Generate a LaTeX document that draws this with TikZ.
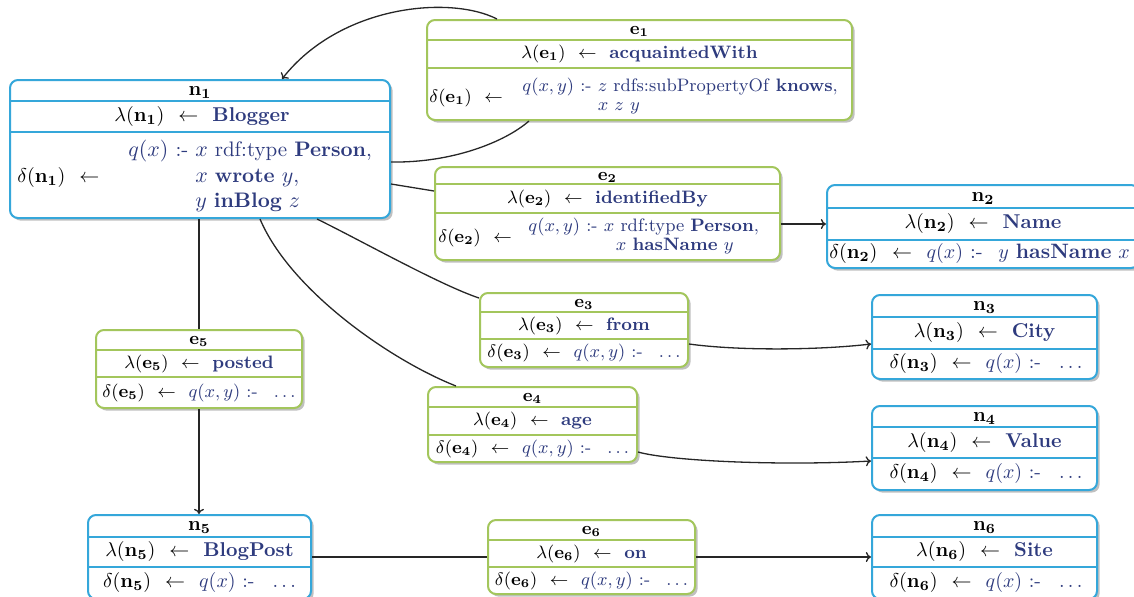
\documentclass[tikz,border=0pt]{standalone}
\usetikzlibrary{fit,shadows,calc,arrows.meta}

\definecolor{nblue}{HTML}{35A7DA}
\definecolor{egreen}{HTML}{A3C65C}
\definecolor{qn}{HTML}{2E3B7E}

% arrow between a label and its value
\newcommand{\lar}{\hspace{0.7em}$\leftarrow$\hspace{0.7em}}
% query / value text colour
\newcommand{\qq}[1]{\textcolor{qn}{#1}}

\tikzset{
  box/.style={fill=white, line width=1pt, rounded corners=4pt, inner sep=0pt,
    drop shadow={shadow xshift=1.3pt, shadow yshift=-1.3pt, fill=black!55, opacity=0.45}},
  nbox/.style={box, draw=nblue},
  ebox/.style={box, draw=egreen},
  nrule/.style={draw=nblue, line width=0.8pt},
  erule/.style={draw=egreen, line width=0.8pt},
  row/.style={inner sep=0pt, text height=7pt, text depth=2.5pt},
  ntext/.style={row, font=\normalsize},
  etext/.style={row, font=\small},
  qblock/.style={inner sep=0pt, anchor=west, text=qn},
  link/.style={draw=black!85, line width=0.65pt},
  arr/.style={link, -{To[length=2.6pt,width=5pt]}},
}

% frame of a three-row box: name, kind (n/e), corners, two row rules
\newcommand{\mkbox}[8]{%
  \node[#2box, fit={(#3,#4) (#5,#6)}] (#1) {};
  \draw[#2rule] (#3,#7) -- (#5,#7) (#3,#8) -- (#5,#8);
}

\begin{document}
\begin{tikzpicture}[x=0.5pt, y=-0.5pt]
\useasboundingbox (0,0) rectangle (1134,596);
\clip (0,0) rectangle (1134,596);

% ---------------- boxes ----------------
\mkbox{n1}{n}{10}{80}{390}{218}{101}{132}
\node[ntext] (n1-h) at (200,90.5) {$\mathbf{n_1}$};
\node[ntext] (n1-l) at (202,116.5) {$\lambda(\mathbf{n_1})$\lar\qq{\textbf{Blogger}}};
\node[ntext, anchor=west] (n1-d) at (17,178) {$\delta(\mathbf{n_1})$\lar};
\node[qblock, font=\fontsize{10.5}{12.6}\selectfont] (n1-q) at (128,177) {\begin{tabular}{@{}r@{\ }l@{}}
  $q(x)$ :- & $x$ rdf:type \textbf{Person},\\
            & $x$ \textbf{wrote} $y$,\\
            & $y$ \textbf{inBlog} $z$
  \end{tabular}};

\mkbox{e1}{e}{427}{20}{852}{120}{40}{68}
\node[etext] (e1-h) at (639.5,30) {$\mathbf{e_1}$};
\node[etext] (e1-l) at (639.5,54) {$\lambda(\mathbf{e_1})$\lar\qq{\textbf{acquaintedWith}}};
\node[etext, anchor=west] (e1-d) at (429,98) {$\delta(\mathbf{e_1})$\lar};
\node[qblock, font=\small] (e1-q) at (522,97) {\def\arraystretch{0.9}\begin{tabular}{@{}r@{\ }l@{}}
  $q(x,y)$ :- & $z$ rdfs:subPropertyOf \textbf{knows},\\
              & $x$ $z$ $y$
  \end{tabular}};

\mkbox{e2}{e}{435}{167}{780}{260}{184}{213}
\node[etext] (e2-h) at (607.5,175.5) {$\mathbf{e_2}$};
\node[etext] (e2-l) at (607.5,198.5) {$\lambda(\mathbf{e_2})$\lar\qq{\textbf{identifiedBy}}};
\node[etext, anchor=west] (e2-d) at (438,238) {$\delta(\mathbf{e_2})$\lar};
\node[qblock, font=\small] (e2-q) at (528,237) {\def\arraystretch{0.9}\begin{tabular}{@{}r@{\ }l@{}}
  $q(x,y)$ :- & $x$ rdf:type \textbf{Person},\\
              & \hspace{6pt}$x$ \textbf{hasName} $y$
  \end{tabular}};

\mkbox{n2}{n}{827}{185}{1139}{268}{208}{240}
\node[ntext] (n2-h) at (983,196.5) {$\mathbf{n_2}$};
\node[ntext] (n2-l) at (983,224) {$\lambda(\mathbf{n_2})$\lar\qq{\textbf{Name}}};
\node[ntext, anchor=west, font=\fontsize{10.4}{12.5}\selectfont] (n2-d) at (829,254) {$\delta(\mathbf{n_2})$\lar\qq{$q(x)$ :-\hspace{0.75em}$y$ \textbf{hasName} $x$}};

\mkbox{e3}{e}{480}{293}{688}{367}{312}{339}
\node[etext] (e3-h) at (584,302.5) {$\mathbf{e_3}$};
\node[etext] (e3-l) at (584,325.5) {$\lambda(\mathbf{e_3})$\lar\qq{\textbf{from}}};
\node[etext] (e3-d) at (584,353) {$\delta(\mathbf{e_3})$\lar\qq{$q(x,y)$ :-\hspace{0.9em}$\ldots$}};

\mkbox{n3}{n}{872}{295}{1097}{379}{317}{349}
\node[ntext] (n3-h) at (984.5,306) {$\mathbf{n_3}$};
\node[ntext] (n3-l) at (984.5,333) {$\lambda(\mathbf{n_3})$\lar\qq{\textbf{City}}};
\node[ntext] (n3-d) at (986,364) {$\delta(\mathbf{n_3})$\lar\qq{$q(x)$ :-\hspace{0.9em}$\ldots$}};

\mkbox{e4}{e}{428}{387}{637}{462}{407}{435}
\node[etext] (e4-h) at (532.5,397) {$\mathbf{e_4}$};
\node[etext] (e4-l) at (532.5,421) {$\lambda(\mathbf{e_4})$\lar\qq{\textbf{age}}};
\node[etext] (e4-d) at (532.5,448.5) {$\delta(\mathbf{e_4})$\lar\qq{$q(x,y)$ :-\hspace{0.9em}$\ldots$}};

\mkbox{n4}{n}{872}{406}{1097}{490}{427}{458}
\node[ntext] (n4-h) at (984.5,416.5) {$\mathbf{n_4}$};
\node[ntext] (n4-l) at (984.5,442.5) {$\lambda(\mathbf{n_4})$\lar\qq{\textbf{Value}}};
\node[ntext] (n4-d) at (986,474) {$\delta(\mathbf{n_4})$\lar\qq{$q(x)$ :-\hspace{0.9em}$\ldots$}};

\mkbox{e5}{e}{96}{330}{302}{408}{350}{377}
\node[etext] (e5-h) at (199,340) {$\mathbf{e_5}$};
\node[etext] (e5-l) at (199,363.5) {$\lambda(\mathbf{e_5})$\lar\qq{\textbf{posted}}};
\node[etext] (e5-d) at (199,392.5) {$\delta(\mathbf{e_5})$\lar\qq{$q(x,y)$ :-\hspace{0.9em}$\ldots$}};

\mkbox{n5}{n}{88}{515}{311}{599}{537}{567}
\node[ntext] (n5-h) at (199.5,526) {$\mathbf{n_5}$};
\node[ntext] (n5-l) at (199.5,552) {$\lambda(\mathbf{n_5})$\lar\qq{\textbf{BlogPost}}};
\node[ntext] (n5-d) at (199.5,583) {$\delta(\mathbf{n_5})$\lar\qq{$q(x)$ :-\hspace{0.9em}$\ldots$}};

\mkbox{e6}{e}{488}{520}{695}{594}{540}{567}
\node[etext] (e6-h) at (591.5,530) {$\mathbf{e_6}$};
\node[etext] (e6-l) at (591.5,553.5) {$\lambda(\mathbf{e_6})$\lar\qq{\textbf{on}}};
\node[etext] (e6-d) at (591.5,580.5) {$\delta(\mathbf{e_6})$\lar\qq{$q(x,y)$ :-\hspace{0.9em}$\ldots$}};

\mkbox{n6}{n}{872}{515}{1097}{599}{537}{567}
\node[ntext] (n6-h) at (984.5,526) {$\mathbf{n_6}$};
\node[ntext] (n6-l) at (984.5,552) {$\lambda(\mathbf{n_6})$\lar\qq{\textbf{Site}}};
\node[ntext] (n6-d) at (986,583) {$\delta(\mathbf{n_6})$\lar\qq{$q(x)$ :-\hspace{0.9em}$\ldots$}};

% ---------------- connectors ----------------
% acquaintedWith: loop from n1 through e1 back to n1
\draw[link] ($(n1.north east)+(0,83)$) .. controls (452,163) and (505,142) .. ($(e1.south west)+(103,0)$);
\draw[arr] ($(e1.north west)+(71,0)$) .. controls (450,-5) and (340,5) .. ($(n1.north west)+(273,0)$);
% identifiedBy
\draw[link] ($(n1.north east)+(0,105)$) -- ($(e2.north west)+(0,25)$);
\draw[arr] ($(e2.north east)+(0,58)$) -- ($(n2.north west)+(0,40)$);
% from
\draw[link] ($(n1.south west)+(308,0)$) .. controls (360,240) and (440,285) .. ($(e3.north west)+(0,6)$);
\draw[arr] ($(e3.north east)+(0,52)$) .. controls (740,351) and (820,350) .. ($(n3.north west)+(0,50)$);
% age
\draw[link] ($(n1.south west)+(251,0)$) .. controls (290,290) and (390,360) .. ($(e4.north west)+(29,0)$);
\draw[arr] ($(e4.north east)+(0,66)$) .. controls (670,461) and (780,466) .. ($(n4.north west)+(0,56)$);
% posted
\draw[link] (e5.north |- n1.south) -- (e5.north);
\draw[arr] (e5.south) -- (e5.south |- n5.north);
% on
\draw[link] (n5.east) -- (e6.west);
\draw[arr] (e6.east) -- (n6.west);

\end{tikzpicture}
\end{document}
